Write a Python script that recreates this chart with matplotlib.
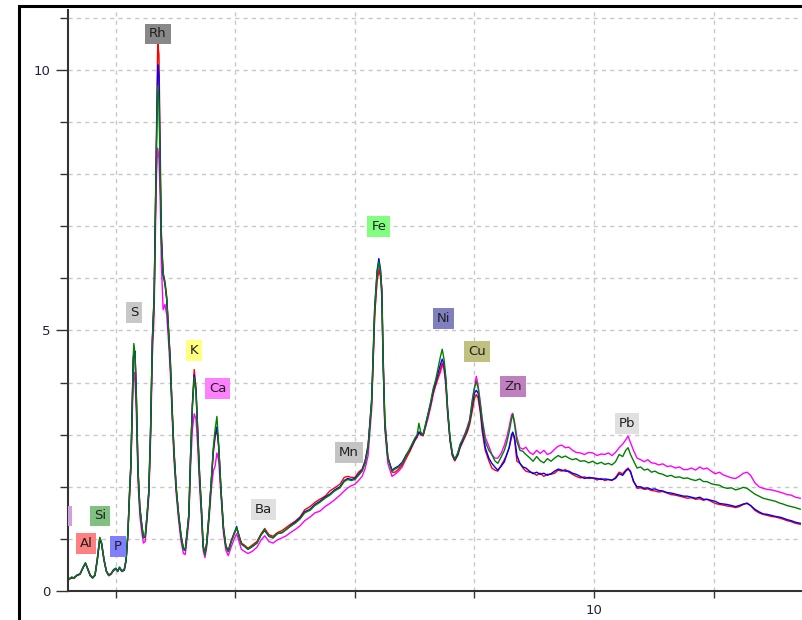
import matplotlib
matplotlib.use("Agg")
import matplotlib.pyplot as plt
from matplotlib.patches import Rectangle
from matplotlib.ticker import MultipleLocator, FixedLocator, FixedFormatter

# energy axis (keV) and the four spectra
energy = [
    1.18, 1.22, 1.26, 1.30, 1.35, 1.40, 1.45, 1.49, 1.53, 1.57,
    1.61, 1.65, 1.69, 1.73, 1.76, 1.80, 1.84, 1.88, 1.92, 1.96,
    2.00, 2.03, 2.06, 2.10, 2.14, 2.17, 2.20, 2.23, 2.25, 2.27,
    2.29, 2.30, 2.32, 2.34, 2.37, 2.40, 2.43, 2.46, 2.49, 2.52,
    2.55, 2.58, 2.61, 2.64, 2.66, 2.68, 2.70, 2.72, 2.74, 2.76,
    2.79, 2.82, 2.85, 2.88, 2.91, 2.94, 2.97, 3.01, 3.05, 3.09,
    3.13, 3.16, 3.19, 3.22, 3.25, 3.28, 3.31, 3.34, 3.37, 3.40,
    3.43, 3.46, 3.49, 3.52, 3.56, 3.60, 3.63, 3.66, 3.69, 3.72,
    3.76, 3.80, 3.84, 3.88, 3.93, 3.98, 4.02, 4.06, 4.10, 4.15,
    4.21, 4.28, 4.36, 4.43, 4.49, 4.56, 4.63, 4.70, 4.78, 4.85,
    4.92, 5.00, 5.08, 5.16, 5.25, 5.33, 5.41, 5.50, 5.58, 5.66,
    5.75, 5.82, 5.88, 5.94, 6.00, 6.06, 6.12, 6.17, 6.22, 6.28,
    6.33, 6.37, 6.40, 6.43, 6.45, 6.47, 6.50, 6.55, 6.62, 6.67,
    6.73, 6.79, 6.86, 6.92, 7.00, 7.04, 7.07, 7.10, 7.14, 7.18,
    7.22, 7.27, 7.31, 7.35, 7.39, 7.43, 7.46, 7.49, 7.52, 7.55,
    7.59, 7.63, 7.67, 7.72, 7.76, 7.80, 7.84, 7.88, 7.92, 7.97,
    8.00, 8.03, 8.06, 8.10, 8.13, 8.18, 8.24, 8.29, 8.34, 8.39,
    8.45, 8.50, 8.54, 8.58, 8.62, 8.64, 8.67, 8.71, 8.76, 8.81,
    8.86, 8.92, 8.98, 9.04, 9.10, 9.16, 9.22, 9.28, 9.34, 9.40,
    9.46, 9.52, 9.58, 9.64, 9.70, 9.77, 9.84, 9.91, 9.98, 10.05,
    10.12, 10.18, 10.24, 10.30, 10.36, 10.42, 10.48, 10.53, 10.57, 10.61,
    10.66, 10.72, 10.78, 10.84, 10.90, 10.96, 11.02, 11.08, 11.15, 11.22,
    11.29, 11.36, 11.43, 11.50, 11.56, 11.63, 11.70, 11.77, 11.83, 11.89,
    11.96, 12.03, 12.10, 12.16, 12.23, 12.30, 12.37, 12.43, 12.50, 12.56,
    12.62, 12.69, 12.76, 12.83, 12.90, 12.97, 13.04, 13.10, 13.16, 13.23,
    13.30, 13.37, 13.45,
]

green = [
    0.25, 0.23, 0.27, 0.25, 0.31, 0.33, 0.45, 0.54, 0.42, 0.30,
    0.25, 0.30, 0.62, 1.03, 0.92, 0.60, 0.38, 0.30, 0.33, 0.40,
    0.43, 0.38, 0.45, 0.38, 0.41, 0.60, 1.10, 1.95, 2.40, 3.40,
    4.50, 4.75, 4.55, 3.80, 2.30, 1.60, 1.30, 1.03, 1.05, 1.45,
    1.90, 3.10, 4.80, 5.60, 7.20, 8.60, 9.70, 9.40, 8.00, 6.70,
    6.10, 5.90, 5.60, 5.00, 4.40, 3.50, 2.70, 1.95, 1.45, 1.05,
    0.80, 0.78, 1.10, 1.45, 2.60, 3.55, 4.10, 3.80, 3.00, 2.20,
    1.60, 0.85, 0.70, 0.92, 1.50, 2.20, 2.75, 3.10, 3.35, 2.80,
    1.90, 1.20, 0.85, 0.76, 0.95, 1.10, 1.22, 1.05, 0.90, 0.86,
    0.80, 0.86, 0.92, 1.08, 1.18, 1.05, 1.02, 1.10, 1.12, 1.18,
    1.24, 1.30, 1.38, 1.50, 1.55, 1.64, 1.70, 1.78, 1.84, 1.92,
    1.98, 2.10, 2.14, 2.12, 2.14, 2.22, 2.30, 2.45, 2.75, 3.65,
    5.40, 6.10, 6.32, 6.10, 5.75, 4.50, 3.20, 2.55, 2.30, 2.34,
    2.38, 2.45, 2.60, 2.74, 2.93, 3.00, 3.22, 3.05, 3.00, 3.20,
    3.39, 3.65, 3.89, 4.05, 4.27, 4.50, 4.64, 4.45, 4.10, 3.50,
    2.95, 2.65, 2.53, 2.65, 2.82, 2.90, 3.00, 3.12, 3.26, 3.70,
    3.90, 4.02, 3.90, 3.55, 3.26, 2.87, 2.70, 2.62, 2.50, 2.45,
    2.58, 2.70, 2.85, 3.05, 3.30, 3.39, 3.20, 2.87, 2.70, 2.68,
    2.62, 2.56, 2.49, 2.58, 2.50, 2.46, 2.54, 2.49, 2.55, 2.60,
    2.56, 2.59, 2.55, 2.52, 2.54, 2.49, 2.50, 2.46, 2.49, 2.44,
    2.47, 2.43, 2.45, 2.42, 2.48, 2.62, 2.58, 2.70, 2.75, 2.62,
    2.50, 2.36, 2.38, 2.32, 2.34, 2.28, 2.30, 2.26, 2.24, 2.20,
    2.22, 2.18, 2.19, 2.16, 2.17, 2.14, 2.12, 2.15, 2.10, 2.10,
    2.06, 2.04, 2.03, 1.99, 1.97, 1.98, 1.94, 1.96, 1.99, 1.97,
    1.92, 1.86, 1.82, 1.78, 1.76, 1.74, 1.72, 1.69, 1.67, 1.64,
    1.62, 1.60, 1.57,
]

red = [
    0.24, 0.22, 0.26, 0.24, 0.30, 0.32, 0.46, 0.53, 0.43, 0.31,
    0.26, 0.31, 0.64, 1.02, 0.93, 0.62, 0.39, 0.31, 0.34, 0.39,
    0.42, 0.39, 0.44, 0.39, 0.42, 0.61, 1.08, 1.90, 2.45, 3.35,
    4.40, 4.60, 4.50, 3.90, 2.35, 1.62, 1.30, 1.05, 1.03, 1.45,
    1.92, 3.10, 4.85, 5.70, 7.30, 8.90, 10.50, 10.30, 8.60, 6.90,
    6.10, 5.95, 5.65, 5.05, 4.45, 3.55, 2.75, 1.98, 1.48, 1.07,
    0.82, 0.80, 1.12, 1.48, 2.65, 3.60, 4.25, 3.90, 3.05, 2.25,
    1.62, 0.88, 0.72, 0.94, 1.50, 2.15, 2.65, 2.95, 3.10, 2.75,
    1.92, 1.22, 0.87, 0.78, 0.97, 1.12, 1.20, 1.07, 0.92, 0.88,
    0.82, 0.88, 0.95, 1.10, 1.20, 1.08, 1.05, 1.12, 1.16, 1.22,
    1.28, 1.34, 1.42, 1.56, 1.62, 1.70, 1.76, 1.82, 1.92, 1.98,
    2.05, 2.18, 2.20, 2.18, 2.18, 2.28, 2.34, 2.50, 2.80, 3.60,
    5.30, 5.95, 6.15, 6.05, 5.80, 4.60, 3.30, 2.58, 2.28, 2.28,
    2.34, 2.42, 2.56, 2.68, 2.88, 2.95, 3.05, 3.00, 2.98, 3.15,
    3.35, 3.58, 3.80, 3.95, 4.10, 4.25, 4.37, 4.30, 4.00, 3.45,
    2.90, 2.60, 2.50, 2.60, 2.75, 2.85, 2.95, 3.05, 3.20, 3.50,
    3.70, 3.77, 3.70, 3.40, 3.05, 2.70, 2.50, 2.36, 2.32, 2.30,
    2.42, 2.52, 2.62, 2.75, 2.95, 3.03, 2.90, 2.49, 2.45, 2.36,
    2.30, 2.28, 2.27, 2.22, 2.26, 2.20, 2.24, 2.24, 2.26, 2.32,
    2.30, 2.33, 2.28, 2.24, 2.20, 2.17, 2.19, 2.16, 2.17, 2.13,
    2.16, 2.12, 2.14, 2.12, 2.18, 2.28, 2.25, 2.32, 2.36, 2.28,
    2.12, 1.97, 1.98, 1.95, 1.96, 1.93, 1.92, 1.90, 1.91, 1.88,
    1.85, 1.84, 1.82, 1.80, 1.78, 1.79, 1.76, 1.77, 1.74, 1.76,
    1.72, 1.68, 1.66, 1.65, 1.63, 1.62, 1.60, 1.62, 1.66, 1.69,
    1.64, 1.55, 1.50, 1.47, 1.45, 1.43, 1.42, 1.40, 1.38, 1.35,
    1.33, 1.30, 1.28,
]

blue = [
    0.26, 0.24, 0.25, 0.26, 0.30, 0.33, 0.44, 0.54, 0.41, 0.30,
    0.25, 0.30, 0.60, 1.00, 0.90, 0.60, 0.38, 0.30, 0.33, 0.41,
    0.44, 0.38, 0.46, 0.38, 0.40, 0.58, 1.10, 1.95, 2.40, 3.40,
    4.45, 4.55, 4.60, 3.80, 2.30, 1.60, 1.28, 1.02, 1.05, 1.42,
    1.88, 3.05, 4.80, 5.65, 7.20, 8.70, 10.10, 9.90, 8.20, 6.80,
    6.05, 5.90, 5.60, 5.00, 4.40, 3.50, 2.70, 1.95, 1.45, 1.05,
    0.80, 0.78, 1.10, 1.45, 2.60, 3.55, 4.15, 3.85, 3.00, 2.20,
    1.60, 0.85, 0.70, 0.92, 1.48, 2.18, 2.70, 3.00, 3.15, 2.78,
    1.90, 1.20, 0.85, 0.76, 0.95, 1.10, 1.24, 1.05, 0.90, 0.86,
    0.80, 0.85, 0.92, 1.08, 1.16, 1.05, 1.02, 1.10, 1.12, 1.18,
    1.25, 1.32, 1.40, 1.52, 1.57, 1.66, 1.72, 1.80, 1.86, 1.94,
    2.00, 2.12, 2.16, 2.14, 2.16, 2.24, 2.32, 2.48, 2.78, 3.70,
    5.45, 6.15, 6.38, 6.15, 5.70, 4.45, 3.20, 2.55, 2.32, 2.36,
    2.40, 2.47, 2.62, 2.72, 2.90, 2.98, 3.05, 3.02, 3.00, 3.18,
    3.38, 3.62, 3.85, 4.00, 4.18, 4.35, 4.45, 4.35, 4.05, 3.50,
    2.92, 2.62, 2.52, 2.62, 2.78, 2.88, 2.98, 3.10, 3.25, 3.62,
    3.80, 3.85, 3.80, 3.48, 3.15, 2.75, 2.55, 2.45, 2.38, 2.32,
    2.40, 2.48, 2.62, 2.75, 3.00, 3.05, 2.95, 2.60, 2.45, 2.38,
    2.36, 2.30, 2.25, 2.28, 2.24, 2.26, 2.22, 2.25, 2.30, 2.34,
    2.32, 2.30, 2.30, 2.26, 2.24, 2.20, 2.16, 2.18, 2.17, 2.16,
    2.14, 2.15, 2.14, 2.13, 2.16, 2.25, 2.22, 2.30, 2.34, 2.30,
    2.10, 2.00, 2.00, 1.97, 1.98, 1.95, 1.96, 1.93, 1.92, 1.89,
    1.88, 1.86, 1.84, 1.82, 1.82, 1.80, 1.78, 1.80, 1.76, 1.76,
    1.74, 1.72, 1.68, 1.67, 1.66, 1.64, 1.62, 1.64, 1.67, 1.68,
    1.64, 1.57, 1.52, 1.48, 1.47, 1.45, 1.43, 1.42, 1.40, 1.37,
    1.35, 1.32, 1.30,
]

magenta = [
    0.25, 0.23, 0.26, 0.25, 0.30, 0.32, 0.45, 0.53, 0.42, 0.29,
    0.25, 0.30, 0.61, 1.01, 0.91, 0.59, 0.37, 0.29, 0.32, 0.39,
    0.42, 0.37, 0.44, 0.37, 0.40, 0.58, 1.05, 1.85, 2.30, 3.20,
    4.10, 4.20, 4.00, 3.50, 2.10, 1.45, 1.15, 0.92, 0.95, 1.35,
    1.80, 2.90, 4.50, 5.30, 6.80, 8.00, 8.50, 8.30, 7.60, 6.30,
    5.40, 5.50, 5.30, 4.80, 4.20, 3.35, 2.55, 1.85, 1.35, 0.95,
    0.72, 0.70, 1.00, 1.35, 2.40, 3.10, 3.40, 3.30, 2.75, 2.00,
    1.45, 0.78, 0.64, 0.85, 1.40, 2.00, 2.30, 2.40, 2.65, 2.50,
    1.80, 1.10, 0.78, 0.68, 0.85, 1.00, 1.10, 0.95, 0.80, 0.76,
    0.72, 0.76, 0.84, 0.98, 1.06, 0.95, 0.92, 0.98, 1.02, 1.06,
    1.12, 1.18, 1.25, 1.35, 1.42, 1.50, 1.53, 1.62, 1.68, 1.75,
    1.84, 1.92, 1.98, 2.02, 2.05, 2.12, 2.20, 2.35, 2.60, 3.50,
    5.30, 6.00, 6.20, 6.00, 5.60, 4.40, 3.10, 2.45, 2.20, 2.24,
    2.30, 2.38, 2.55, 2.70, 2.90, 2.96, 3.05, 3.00, 2.98, 3.15,
    3.30, 3.55, 3.78, 3.95, 4.08, 4.20, 4.35, 4.25, 3.95, 3.40,
    2.90, 2.60, 2.50, 2.64, 2.80, 2.92, 3.02, 3.15, 3.30, 3.72,
    3.90, 4.12, 3.95, 3.60, 3.30, 2.95, 2.78, 2.62, 2.55, 2.55,
    2.65, 2.80, 2.95, 3.15, 3.38, 3.41, 3.25, 2.95, 2.75, 2.72,
    2.76, 2.66, 2.62, 2.70, 2.64, 2.70, 2.62, 2.65, 2.72, 2.78,
    2.80, 2.75, 2.76, 2.70, 2.66, 2.65, 2.62, 2.66, 2.65, 2.60,
    2.63, 2.62, 2.65, 2.60, 2.66, 2.75, 2.82, 2.90, 2.97, 2.85,
    2.70, 2.55, 2.52, 2.48, 2.52, 2.46, 2.45, 2.42, 2.44, 2.39,
    2.40, 2.36, 2.38, 2.33, 2.33, 2.36, 2.32, 2.38, 2.34, 2.36,
    2.30, 2.25, 2.28, 2.23, 2.20, 2.17, 2.16, 2.20, 2.26, 2.28,
    2.22, 2.08, 2.00, 1.97, 1.95, 1.94, 1.92, 1.90, 1.88, 1.85,
    1.84, 1.80, 1.78,
]

# element markers: name, energy (keV), height of the tag
elements = ["Na", "Al", "Si", "P", "S", "Rh", "K", "Ca", "Ba", "Mn",
            "Fe", "Ni", "Cu", "Zn", "Pb"]
element_kev = [1.05, 1.50, 1.74, 2.03, 2.30, 2.70, 3.31, 3.70, 4.47, 5.90,
               6.40, 7.48, 8.04, 8.64, 10.55]
element_y = [1.44, 0.92, 1.44, 0.86, 5.34, 10.69, 4.62, 3.89, 1.57, 2.66,
             6.99, 5.23, 4.60, 3.93, 3.22]

tag_colors = {
    "Na": "#d0a0d8", "Al": "#ff8080", "Si": "#80c080", "P": "#8080ff",
    "S": "#c8c8c8", "Rh": "#888888", "K": "#ffff80", "Ca": "#ff80ff",
    "Ba": "#e0e0e0", "Mn": "#c4c4c4", "Fe": "#80ff80", "Ni": "#8080c0",
    "Cu": "#c0c080", "Zn": "#c080c0", "Pb": "#e0e0e0",
}

fig = plt.figure(figsize=(8.02, 6.2), dpi=100)
ax = fig.add_axes([67.5 / 802, 29 / 620, (802 - 67.5) / 802, 581 / 620])

ax.plot(energy, magenta, color="#ff00ff", lw=1.0)
ax.plot(energy, red, color="#ff0000", lw=1.0)
ax.plot(energy, blue, color="#0000ff", lw=1.0)
ax.plot(energy, green, color="#008000", lw=1.0)

for name, e, y in zip(elements, element_kev, element_y):
    ax.text(e, y, name, ha="center", va="center", fontsize=9.5, color="#202020",
            clip_on=True,
            bbox=dict(boxstyle="square,pad=0.3", fc=tag_colors[name], ec="none"))

ax.set_xlim(1.19, 13.48)
ax.set_ylim(0, 11.15)

ax.xaxis.set_major_locator(MultipleLocator(2))
ax.xaxis.set_major_formatter(FixedFormatter([]))
ax.set_xticks([2, 4, 6, 8, 10, 12])
ax.set_xticklabels(["", "", "", "", "10", ""])
ax.yaxis.set_major_locator(FixedLocator([0, 5, 10]))
ax.yaxis.set_minor_locator(MultipleLocator(1))
ax.set_yticklabels(["0", "5", "10"])

ax.tick_params(axis="both", which="major", direction="out", color="#333333",
               labelsize=9.5, labelcolor="#202040", width=1)
ax.tick_params(axis="y", which="major", length=9, pad=3)
ax.tick_params(axis="y", which="minor", length=6, width=1, color="#333333")
ax.tick_params(axis="x", which="major", length=5, pad=4)

ax.grid(True, which="both", color="#c8c8c8", linestyle=(0, (3, 3)), lw=1)
ax.set_axisbelow(True)

for side in ["top", "right"]:
    ax.spines[side].set_visible(False)
for side in ["left", "bottom"]:
    ax.spines[side].set_color("#333333")
    ax.spines[side].set_linewidth(1.5)

# black border of the window the chart sits in
fig.add_artist(Rectangle((19 / 802, -0.2), 1.2, 1.2 - 6 / 620 + 0.0,
                         transform=fig.transFigure, fill=False, ec="black",
                         lw=2.2, clip_on=False))

fig.savefig("out.png", dpi=100)
